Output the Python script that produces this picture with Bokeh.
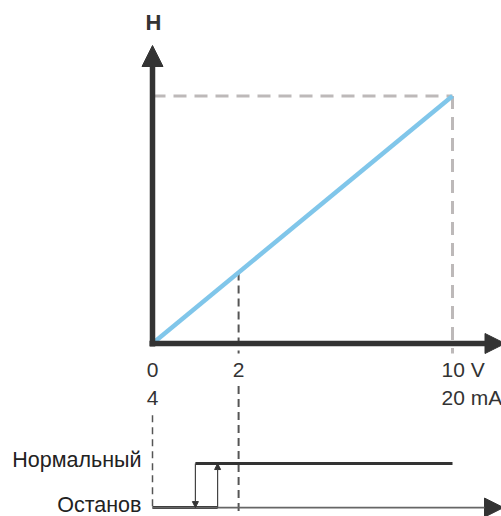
import numpy as np
from bokeh.plotting import figure
from bokeh.models import Range1d, Arrow, NormalHead
from bokeh.core.properties import value
from bokeh.embed import file_html
from bokeh.resources import INLINE

# ---------------- data (schematic units: input 0..10 V, H 0..1) ----------------
ramp_x = [0, 10]                 # 0 V / 4 mA  ->  10 V / 20 mA
ramp_h = [0, 1]                  # H rises linearly
tick_pos = [0, 2.87, 10]         # positions of the input marks
tick_volt = ["0", "2", "10 V"]
tick_ma = ["4", "", "20 mA"]
threshold_x = 2.87               # the "2" threshold mark
switch_off_x = 1.43              # Normal -> Stop (falling)
switch_on_x = 2.17               # Stop -> Normal (rising)
normal_end_x = 10
state_labels = ["Нормальный", "Останов"]
state_levels = [-0.485, -0.663]
h_axis_top = 1.204
x_axis_tip = 11.75
time_axis_tip = 11.7

DARK = "#333333"
GRID_GRAY = "#bdb9b9"
DASH_DARK = "#555555"
BLUE = "#80c6ea"
FONT = value("Liberation Sans")

p = figure(width=501, height=516,
           x_range=Range1d(-5.0667, 11.6333), y_range=Range1d(-0.69899, 1.38586),
           x_axis_type=None, y_axis_type=None,
           output_backend="svg", toolbar_location=None, min_border=0)
p.grid.visible = False
p.outline_line_color = None
p.background_fill_color = "white"
p.border_fill_color = "white"

normal_lvl, stop_lvl = state_levels
threshold_h = float(np.interp(threshold_x, ramp_x, ramp_h))

# gray reference dashes at full scale
p.line([ramp_x[0], ramp_x[1]], [ramp_h[1], ramp_h[1]], line_color=GRID_GRAY,
       line_width=3, line_dash="13 8")
p.line([ramp_x[1], ramp_x[1]], [ramp_h[1], -0.04], line_color=GRID_GRAY,
       line_width=3, line_dash="13 8")

# dark dashed threshold guide (interrupted behind the "2" label)
p.multi_line(xs=[[threshold_x, threshold_x], [threshold_x, threshold_x]],
             ys=[[threshold_h, -0.04], [-0.172, -0.69]],
             line_color=DASH_DARK, line_width=2, line_dash="8 5")
# left dashed guide in lower part
p.line([0, 0], [-0.29, stop_lvl], line_color=DASH_DARK, line_width=1.5,
       line_dash="7 5")

# ramp
p.line(ramp_x, ramp_h, line_color=BLUE, line_width=4.5)

# axes with arrows
p.add_layout(Arrow(end=NormalHead(size=21, fill_color=DARK, line_color=DARK),
                   x_start=0, y_start=-0.012, x_end=0, y_end=h_axis_top,
                   line_color=DARK, line_width=5.5))
p.add_layout(Arrow(end=NormalHead(size=20, fill_color=DARK, line_color=DARK),
                   x_start=-0.1, y_start=0, x_end=x_axis_tip, y_end=0,
                   line_color=DARK, line_width=5.5))

# lower time/state axis
p.add_layout(Arrow(end=NormalHead(size=19, fill_color=DARK, line_color=DARK),
                   x_start=0, y_start=stop_lvl, x_end=time_axis_tip, y_end=stop_lvl,
                   line_color="#666666", line_width=1.8))

# state step lines
p.line([0, switch_on_x], [stop_lvl, stop_lvl], line_color=DARK, line_width=3)
p.line([switch_off_x, normal_end_x], [normal_lvl, normal_lvl], line_color=DARK,
       line_width=3)
p.add_layout(Arrow(end=NormalHead(size=6, fill_color=DARK, line_color=DARK),
                   x_start=switch_on_x, y_start=stop_lvl, x_end=switch_on_x,
                   y_end=normal_lvl, line_color="#444444", line_width=1.2))
p.add_layout(Arrow(end=NormalHead(size=6, fill_color=DARK, line_color=DARK),
                   x_start=switch_off_x, y_start=normal_lvl, x_end=switch_off_x,
                   y_end=stop_lvl, line_color="#444444", line_width=1.2))

# texts
p.text(x=[0.03], y=[1.2969], text=["H"], text_font=FONT, text_font_size="22px",
       text_font_style="bold", text_color=DARK, text_align="center",
       text_baseline="alphabetic")

center_idx = [i for i, t in enumerate(tick_volt) if " " not in t]
end_idx = [i for i, t in enumerate(tick_volt) if " " in t]
volt_y = -0.1051
ma_y = -0.2182
p.text(x=[tick_pos[i] for i in center_idx], y=[volt_y] * len(center_idx),
       text=[tick_volt[i] for i in center_idx], text_font=FONT,
       text_font_size="21px", text_color=DARK, text_align="center",
       text_baseline="alphabetic")
p.text(x=[tick_pos[i] for i in end_idx], y=[volt_y] * len(end_idx),
       text=[tick_volt[i] for i in end_idx], text_font=FONT,
       text_font_size="21px", text_color=DARK, text_align="left",
       text_baseline="alphabetic", x_offset=-11)
p.text(x=[tick_pos[i] for i in center_idx], y=[ma_y] * len(center_idx),
       text=[tick_ma[i] for i in center_idx], text_font=FONT,
       text_font_size="21px", text_color=DARK, text_align="center",
       text_baseline="alphabetic")
p.text(x=[tick_pos[i] for i in end_idx], y=[ma_y] * len(end_idx),
       text=[tick_ma[i] for i in end_idx], text_font=FONT,
       text_font_size="21px", text_color=DARK, text_align="left",
       text_baseline="alphabetic", x_offset=-11)

p.text(x=[0, 0], y=state_levels, text=state_labels, text_font=FONT,
       text_font_size="21.5px", text_color="#222222", text_align="right",
       text_baseline="alphabetic", x_offset=-11, y_offset=[-4, -3])

open("out.html", "w").write(file_html(p, INLINE))
